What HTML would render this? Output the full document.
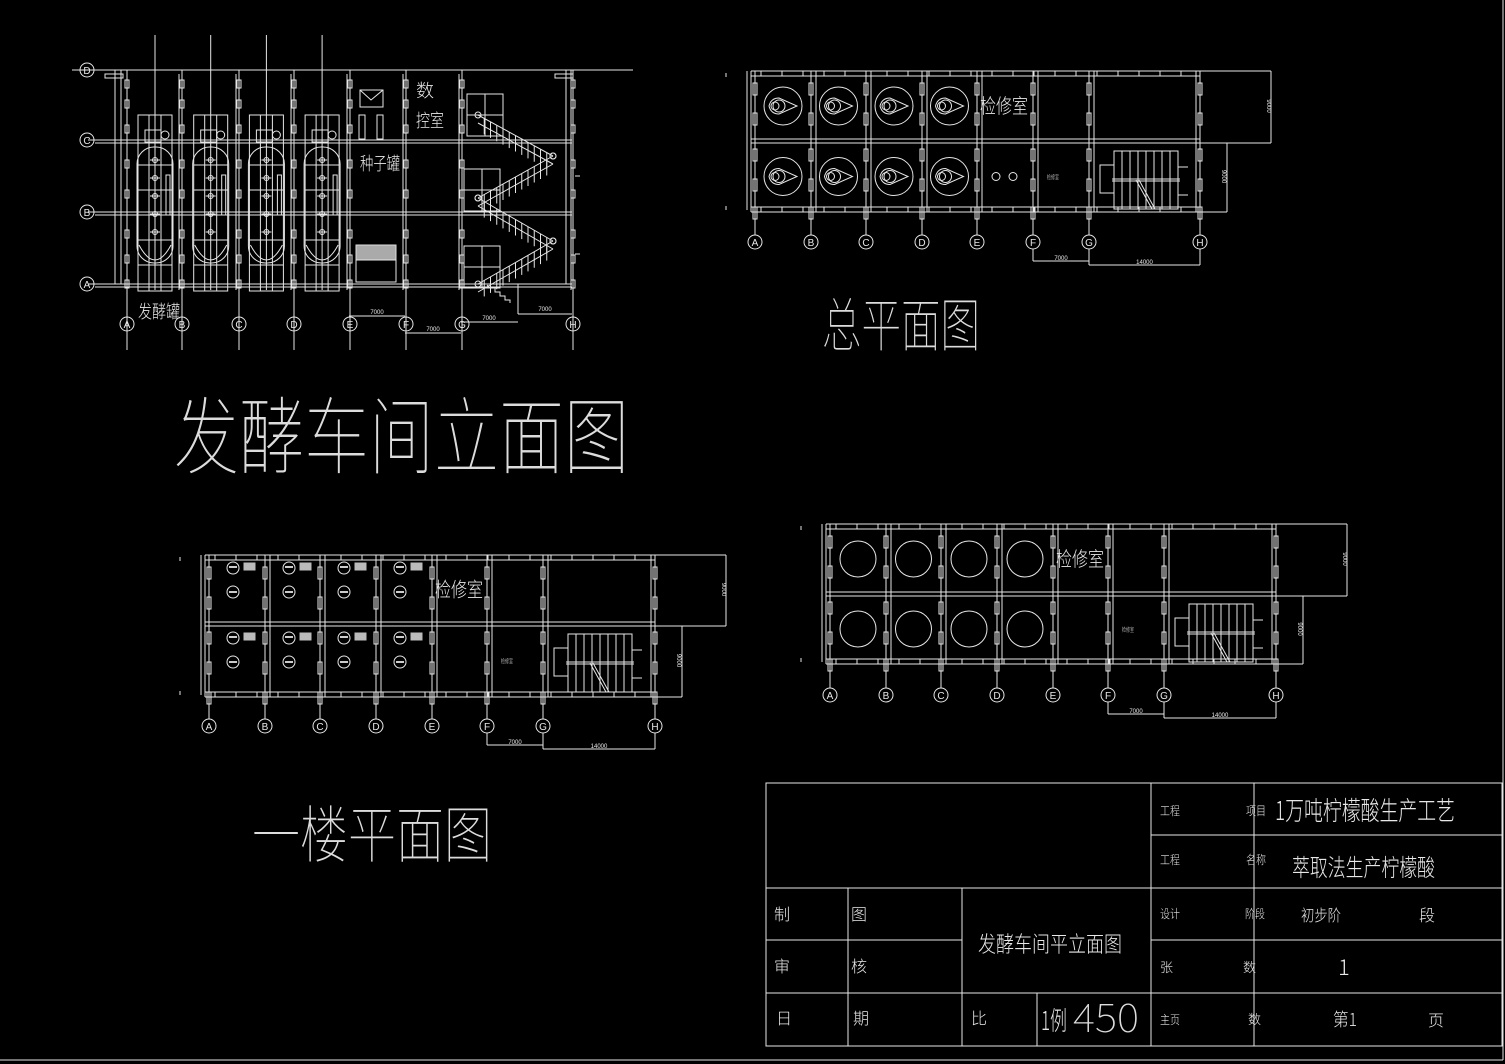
<!DOCTYPE html>
<html><head><meta charset="utf-8">
<style>
html,body{margin:0;padding:0;background:#000;}
svg{display:block}
text{font-family:"Liberation Sans","Noto Sans CJK SC",sans-serif;fill:#e8e8e8;}
.cj{font-family:"Noto Sans CJK SC","WenQuanYi Zen Hei",sans-serif;font-weight:200;}
.big{font-family:"Noto Sans CJK SC","WenQuanYi Zen Hei",sans-serif;font-weight:100;fill:#dcdcdc;}
</style></head>
<body>
<svg id="s" xmlns="http://www.w3.org/2000/svg" width="1505" height="1064" viewBox="0 0 1505 1064">
<rect width="1505" height="1064" fill="#000"/>
<g id="g" stroke="#e6e6e6" stroke-width="1" fill="none"></g>
<g id="t"></g>
</svg>
<script>
const NS="http://www.w3.org/2000/svg";
const G=document.getElementById('g'),T=document.getElementById('t');
function el(tag,a,p){const e=document.createElementNS(NS,tag);for(const k in a)e.setAttribute(k,a[k]);(p||G).appendChild(e);return e;}
function L(x1,y1,x2,y2,c){el('line',{x1,y1,x2,y2,stroke:c||'#e6e6e6'});}
function R(x,y,w,h,c){el('rect',{x,y,width:w,height:h,stroke:c||'#e6e6e6'});}
function C(cx,cy,r){el('circle',{cx,cy,r});}
function tx(x,y,s,size,w,cls,anchor){const e=el('text',{x,y,'font-size':size,class:cls===undefined?'cj':cls},T);if(w){e.setAttribute('textLength',w);e.setAttribute('lengthAdjust','spacingAndGlyphs');}if(anchor)e.setAttribute('text-anchor',anchor);e.textContent=s;return e;}

L(1503,0,1503,1060);L(0,1060,1503,1060);

const LET='ABCDEFGH';
function plan(xs,top,mid,bot,cy,type){
  const x0=xs[0]-4,x7=xs[7];
  L(x0,top,x7,top);L(x0,top+5,x7,top+5);
  L(x0,bot,x7,bot);L(x0,bot-5,x7,bot-5);
  L(x0,mid-2,x7,mid-2);L(x0,mid+2,x7,mid+2);
  L(x0,top,x0,bot);L(x0+4,top,x0+4,bot);L(x0-4,top,x0-4,bot-2);
  L(x7,top,x7,bot);L(x7-4,top,x7-4,bot);
  L(x0-25,top+2,x0-25,top+6);L(x0-25,bot-6,x0-25,bot-2);
  for(let x=x0+10;x<x7-5;x+=21){L(x,top,x,top+5);L(x,bot-5,x,bot);}
  xs.forEach((x,i)=>{
    L(x,top,x,cy-7);
    if(i>0&&i<7){L(x+5,top,x+5,bot);}
    [top+12,top+42,mid+8,mid+38,bot-5].forEach(y=>R(x-2,y,4,12));
    C(x,cy,7);
    tx(x,cy+4,LET[i],10,null,'', 'middle');
  });
  const bw=71;
  L(x7,top,x7+bw,top);L(x7+bw,top,x7+bw,mid+2);L(x7,mid+2,x7+bw,mid+2);
  L(x7,mid+2,x7+45,mid+2);L(x7+27,mid+2,x7+27,bot);L(x7,bot,x7+27,bot);
  tx(x7+bw-4,(top+mid)/2,'9000',6,null,'','middle').setAttribute('transform',`rotate(90 ${x7+bw-4} ${(top+mid)/2})`);
  tx(x7+22,(mid+bot)/2,'9000',6,null,'','middle').setAttribute('transform',`rotate(90 ${x7+22} ${(mid+bot)/2})`);
  L(xs[5],cy+7,xs[5],cy+19);L(xs[5],cy+19,xs[6],cy+19);L(xs[6],cy+7,xs[6],cy+23);
  L(xs[6],cy+23,xs[7],cy+23);L(xs[7],cy+7,xs[7],cy+23);
  tx((xs[5]+xs[6])/2,cy+18,'7000',6,null,'','middle');
  tx((xs[6]+xs[7])/2,cy+22,'14000',6,null,'','middle');
  const sx=xs[6]+25,sw=64,sy=mid+10,sh=58;
  R(sx,sy,sw,sh);for(let i=1;i<8;i++)L(sx+i*sw/8,sy,sx+i*sw/8,sy+sh);
  R(sx-14,sy+14,14,28);L(sx-2,sy+sh/2-1,sx+sw+2,sy+sh/2-1);L(sx-2,sy+sh/2+1,sx+sw+2,sy+sh/2+1);
  L(sx+22,sy+sh/2,sx+38,sy+sh);L(sx+25,sy+sh/2,sx+41,sy+sh);
  L(sx+sw,sy+16,sx+sw+10,sy+16);L(sx+sw,sy+44,sx+sw+10,sy+44);
  for(let i=0;i<4;i++){
    const cx=(xs[i]+xs[i+1])/2;
    const r1=(top+mid)/2,r2=(mid+bot)/2;
    if(type==1){[r1,r2].forEach(y=>{C(cx,y,19);el('path',{d:`M${cx-14} ${y} Q${cx-12} ${y-8} ${cx-4} ${y-8} L${cx+14} ${y} L${cx-4} ${y+8} Q${cx-12} ${y+8} ${cx-14} ${y}Z`});C(cx-4,y,6);C(cx-8,y,4);});}
    else if(type==2){[r1,r2].forEach(y=>C(cx,y,18));}
    else {const xa=xs[i]+24;
      [top+13,mid+14].forEach(y=>{C(xa,y,6);el('rect',{x:xa+11,y:y-5,width:11,height:7,fill:'#bbb',stroke:'#bbb'});C(xa,y+24,6);
        el('rect',{x:xa-4,y:y-2,width:8,height:2,fill:'#ccc',stroke:'none'});el('rect',{x:xa-4,y:y+23,width:8,height:2,fill:'#ccc',stroke:'none'});});}
  }
  const ex=xs[4]+3;
  tx(ex,(top+mid)/2+7,'检修室',20,48);
  tx(xs[5]+14,(mid+bot)/2+3,'检修室',6,12);
  if(type==1){C(xs[4]+19,(mid+bot)/2,4);C(xs[4]+36,(mid+bot)/2,4);}
}
plan([755,811,866,922,977,1033,1089,1200],71,141,212,242,1);
plan([830,886,941,997,1053,1108,1164,1276],524,594,664,695,2);
plan([209,265,320,376,432,487,543,655],555,624,697,726,3);

const ax=[127,182,239,294,350,406,462,573];
L(72,70,633,70);
[[140,88],[212,88],[284,88]].forEach(([y,x])=>{L(x,y,572,y);L(95,y+3,572,y+3);});
[['D',70],['C',140],['B',212],['A',284]].forEach(([s,y])=>{C(87,y,7);tx(87,y+4,s,10,null,'','middle');});
L(115,70,115,284);L(121,70,121,284);L(566,70,566,284);L(571,70,571,290);
ax.forEach((x,i)=>{L(x,70,x,350);if(i>0&&i<7){L(x-3,74,x-3,290);}
  [80,100,125,160,190,230,255,280].forEach(y=>R(x-2,y,4,8));
  C(x,324,7);tx(x,328,LET[i],10,null,'','middle');});
R(105,74,18,4);R(555,74,18,4);
for(let i=0;i<4;i++){
  const cx=155+55.7*i;
  L(cx,35,cx,290);
  R(cx-17,115,34,176);
  for(let y=140;y<290;y+=25)L(cx-17,y,cx+17,y);
  L(cx-6,115,cx-6,291);L(cx+6,115,cx+6,291);
  el('rect',{x:cx-18,y:147,width:36,height:116,rx:17,ry:17});
  el('path',{d:`M${cx-16} 245 Q${cx} 275 ${cx+16} 245`});
  R(cx-10,130,16,12);C(cx+10,135,4);
  for(let y=160;y<250;y+=18){C(cx,y,2.5);L(cx-5,y,cx+5,y);}
  R(cx+11,175,4,40);
}
el('path',{d:'M360 90 L383 90 L383 107 L360 107 Z M360 90 L371 100 L383 90'});
R(359,115,6,24);R(377,115,6,24);
el('rect',{x:356,y:245,width:40,height:15,fill:'#aaa',stroke:'#ddd'});R(356,260,40,22);
R(467,94,36,42);L(485,94,485,136);L(467,115,503,115);
R(464,169,36,42);L(482,169,482,211);L(464,190,500,190);
R(464,246,36,42);L(482,246,482,288);L(464,267,500,267);
const fl=[[478,115,553,156],[553,156,478,198],[478,198,553,241],[553,241,478,284]];
fl.forEach(([a,b,c,d])=>{L(a,b,c,d);L(a,b+8,c,d+8);
  for(let k=1;k<12;k++){const x=a+(c-a)*k/12,y=b+(d-b)*k/12;L(x,y,x,y+16);}
  C(a,b,3);C(c,d,3);});
el('path',{d:'M487 285 L490 288 L495 288 L495 292 L500 292 L500 296 L505 296 L505 300 L510 300 L510 303'});
L(518,284,518,314);L(518,314,572,314);L(575,176,580,176);L(575,254,580,254);
L(349,316,405,316);tx(377,314,'7000',6,null,'','middle');
L(405,333,461,333);tx(433,331,'7000',6,null,'','middle');
L(461,322,518,322);tx(489,320,'7000',6,null,'','middle');
tx(545,311,'7000',6,null,'','middle');
tx(416,97,'数',18);tx(416,127,'控室',18,28);
tx(360,170,'种子罐',18,40);
tx(138,318,'发酵罐',18,42);

tx(174,467,'发酵车间立面图',84,455,'big');
tx(822,346,'总平面图',58,158,'big');
tx(252,857,'一楼平面图',62,240,'big');

R(766,783,736,263);
L(1151,783,1151,1046);L(1254,783,1254,1046);
L(1151,835,1502,835);L(766,888,1502,888);L(766,940,962,940);L(1151,940,1502,940);L(766,993,1502,993);
L(848,888,848,1046);L(962,888,962,1046);L(1037,993,1037,1046);
const tb=(x,y,s,sz,w)=>tx(x,y,s,sz,w);
tb(1160,815,'工程',12,20);tb(1246,815,'项目',12,20);tb(1275,820,'1万吨柠檬酸生产工艺',26,180);
tb(1160,864,'工程',12,20);tb(1246,864,'名称',12,20);tb(1292,876,'萃取法生产柠檬酸',24,143);
tb(1160,918,'设计',12,20);tb(1245,918,'阶段',12,20);tb(1301,921,'初步阶',16,40);tb(1419,921,'段',16);
tb(1160,972,'张',13);tb(1243,972,'数',13);tb(1338,975,'1',22,null);
tb(1160,1024,'主页',12,20);tb(1248,1024,'数',13);tb(1333,1026,'第1',18,24);tb(1428,1026,'页',16);
tb(774,920,'制',16);tb(851,920,'图',16);tb(774,972,'审',16);tb(851,972,'核',16);
tb(776,1024,'日',16);tb(853,1024,'期',16);tb(971,1024,'比',16);
tb(1041,1030,'1例',26,26);tx(1073,1032,'450',40,66,'big');
tb(978,952,'发酵车间平立面图',22,144);
</script>
</body></html>
